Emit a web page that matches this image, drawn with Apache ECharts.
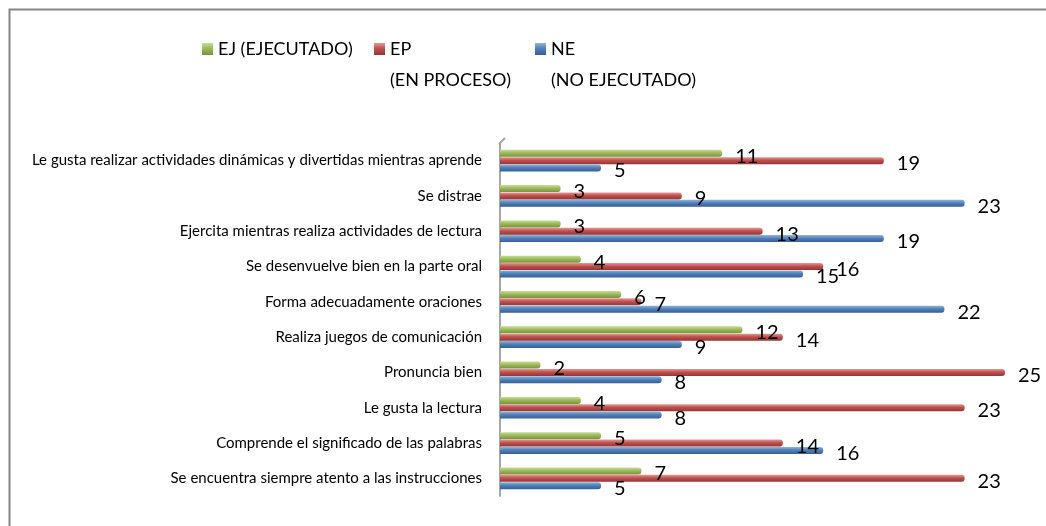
<!DOCTYPE html>
<html>
<head>
<meta charset="utf-8">
<script src="https://cdn.jsdelivr.net/npm/echarts@6/dist/echarts.min.js"></script>
<style>
  html, body { margin: 0; padding: 0; background: #fff; }
  #chart { width: 1046px; height: 526px; }
</style>
</head>
<body>
<div id="chart"></div>
<script>
var categories = [
  'Le gusta realizar actividades dinámicas y divertidas mientras aprende',
  'Se distrae',
  'Ejercita mientras realiza actividades de lectura',
  'Se desenvuelve bien en la parte oral',
  'Forma adecuadamente oraciones',
  'Realiza juegos de comunicación',
  'Pronuncia bien',
  'Le gusta la lectura',
  'Comprende el significado de las palabras',
  'Se encuentra siempre atento a las instrucciones'
];
var seriesNames = ['EJ (EJECUTADO)', 'EP\n(EN PROCESO)', 'NE\n(NO EJECUTADO)'];
var ejData = [11, 3, 3, 4, 6, 12, 2, 4, 5, 7];
var epData = [19, 9, 13, 16, 7, 14, 25, 23, 14, 23];
var neData = [5, 23, 19, 15, 22, 9, 8, 8, 16, 5];

var FONT = 'Lato, "Liberation Sans", sans-serif';

function grad(light, mid, dark) {
  return new echarts.graphic.LinearGradient(0, 0, 0, 1, [
    { offset: 0, color: light },
    { offset: 0.45, color: mid },
    { offset: 1, color: dark }
  ]);
}

function makeSeries(name, data, fill) {
  return {
    name: name,
    type: 'bar',
    data: data,
    barWidth: 7,
    barGap: '5%',
    itemStyle: { color: fill, borderRadius: [0, 3, 3, 0] },
    label: {
      show: true,
      position: 'right',
      distance: 13,
      offset: [0, 3],
      color: '#000',
      fontSize: 20,
      fontFamily: FONT
    }
  };
}

// one legend per series so each item sits where the original puts it;
// only the first line of the name is shown next to the swatch
function makeLegend(name, left) {
  return {
    left: left,
    top: 40,
    padding: 0,
    itemWidth: 11,
    itemHeight: 12,
    icon: 'rect',
    data: [name],
    formatter: function (n) { return n.split('\n')[0]; },
    textStyle: { fontSize: 18, fontFamily: FONT, color: '#000' }
  };
}

// second line of the two-line legend names
function secondLine(name, x) {
  return {
    type: 'text',
    left: x,
    top: 71,
    silent: true,
    style: { text: name.split('\n')[1], fontSize: 18, fontFamily: FONT, fill: '#000' }
  };
}

var chart = echarts.init(document.getElementById('chart'));
var option = {
  animation: false,
  legend: [
    makeLegend(seriesNames[0], 202),
    makeLegend(seriesNames[1], 374),
    makeLegend(seriesNames[2], 535)
  ],
  graphic: [
    {
      type: 'rect',
      shape: { x: 9.5, y: 9.5, width: 1100, height: 600 },
      style: { fill: 'none', stroke: '#868686', lineWidth: 2 },
      silent: true
    },
    {
      type: 'polyline',
      shape: { points: [[499, 144], [505, 138]] },
      style: { stroke: '#a6a6a6', lineWidth: 2 },
      silent: true
    },
    secondLine(seriesNames[1], 390),
    secondLine(seriesNames[2], 551)
  ],
  grid: { left: 500, right: 41, top: 143, bottom: 30 },
  xAxis: {
    type: 'value',
    min: 0,
    max: 25,
    show: false
  },
  yAxis: {
    type: 'category',
    inverse: true,
    data: categories,
    axisTick: { show: false },
    axisLine: { show: true, lineStyle: { color: '#a6a6a6', width: 2 } },
    axisLabel: { color: '#000', fontSize: 15, fontFamily: FONT, margin: 18 }
  },
  series: [
    makeSeries(seriesNames[0], ejData, grad('#c6dc9c', '#9bbb59', '#77933c')),
    makeSeries(seriesNames[1], epData, grad('#e39a98', '#c0504d', '#943634')),
    makeSeries(seriesNames[2], neData, grad('#95b3d7', '#4f81bd', '#365f91'))
  ]
};
chart.setOption(option);
</script>
</body>
</html>
